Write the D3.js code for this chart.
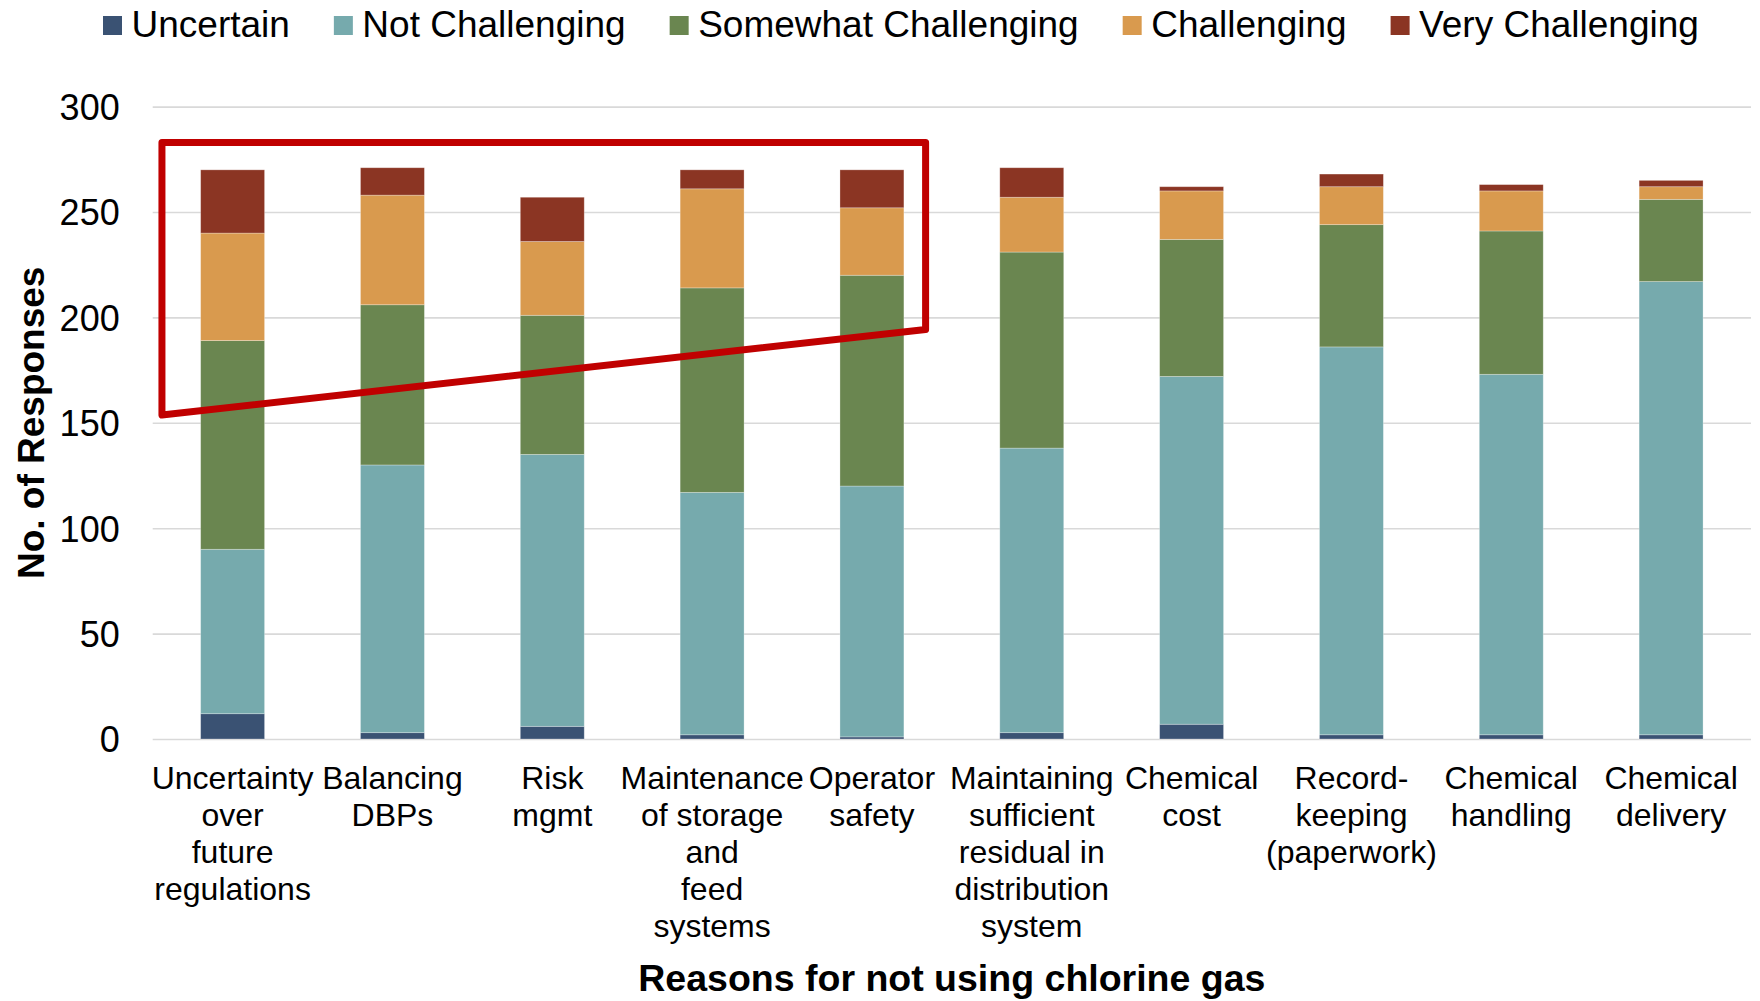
<!DOCTYPE html>
<html>
<head>
<meta charset="utf-8">
<script src="https://cdn.jsdelivr.net/npm/d3@7"></script>
<style>
  html, body { margin: 0; padding: 0; background: #ffffff; }
  svg { display: block; font-family: "Liberation Sans", Arial, sans-serif; }
</style>
</head>
<body>
<svg id="chart" width="1760" height="1001"></svg>
<script>
// Reasons for not using chlorine gas, number of responses by difficulty
const categories = [
  ["Uncertainty", "over", "future", "regulations"],
  ["Balancing", "DBPs"],
  ["Risk", "mgmt"],
  ["Maintenance", "of storage", "and", "feed", "systems"],
  ["Operator", "safety"],
  ["Maintaining", "sufficient", "residual in", "distribution", "system"],
  ["Chemical", "cost"],
  ["Record-", "keeping", "(paperwork)"],
  ["Chemical", "handling"],
  ["Chemical", "delivery"]
];
const seriesNames = ["Uncertain", "Not Challenging", "Somewhat Challenging", "Challenging", "Very Challenging"];
const uncertain           = [12,   3,   6,   2,   1,   3,   7,   2,   2,   2];
const notChallenging      = [78, 127, 129, 115, 119, 135, 165, 184, 171, 215];
const somewhatChallenging = [99,  76,  66,  97, 100,  93,  65,  58,  68,  39];
const challenging         = [51,  52,  35,  47,  32,  26,  23,  18,  19,   6];
const veryChallenging     = [30,  13,  21,   9,  18,  14,   2,   6,   3,   3];
const yTicks = [0, 50, 100, 150, 200, 250, 300];
const xTitle = "Reasons for not using chlorine gas";
const yTitle = "No. of Responses";

// highlighted group: first five reasons, outline edges in response units
const highlightFirst = 0, highlightLast = 4;
const highlightTop = 283, highlightBottomLeft = 153.7, highlightBottomRight = 194.3;

const colors = ["#3a5273", "#76aaad", "#6a8650", "#d99a4e", "#8b3523"];

const seriesValues = [uncertain, notChallenging, somewhatChallenging, challenging, veryChallenging];
const keys = categories.map(c => c.join(" "));
const rows = keys.map((k, i) => {
  const r = { key: k };
  seriesNames.forEach((s, j) => { r[s] = seriesValues[j][i]; });
  return r;
});

const svg = d3.select("#chart");
const plot = { left: 152.7, right: 1751, top: 106.6, bottom: 739 };

const x = d3.scaleBand().domain(keys).range([plot.left, plot.right])
  .paddingInner(0.6).paddingOuter(0.3);
const y = d3.scaleLinear().domain([0, 300]).range([plot.bottom, plot.top]);

// gridlines
const grid = svg.append("g")
  .attr("transform", `translate(${plot.left},0)`)
  .call(d3.axisLeft(y).tickValues(yTicks).tickSize(-(plot.right - plot.left)).tickFormat(""));
grid.select(".domain").remove();
grid.selectAll("line").attr("stroke", "#d9d9d9").attr("stroke-width", 1.6);

// y tick labels
const yAxis = svg.append("g")
  .attr("transform", `translate(${plot.left - 33},0)`)
  .call(d3.axisLeft(y).tickValues(yTicks).tickSize(0).tickPadding(0));
yAxis.select(".domain").remove();
yAxis.selectAll("text")
  .attr("font-family", "'Liberation Sans', Arial, sans-serif")
  .attr("font-size", 36)
  .attr("fill", "#000")
  .attr("dy", "0.36em");

// stacked bars
const stack = d3.stack().keys(seriesNames)(rows);
svg.append("g").selectAll("g")
  .data(stack)
  .join("g")
  .attr("fill", (d, i) => colors[i])
  .selectAll("rect")
  .data(d => d)
  .join("rect")
  .attr("x", d => x(d.data.key))
  .attr("width", x.bandwidth())
  .attr("y", d => y(d[1]))
  .attr("height", d => y(d[0]) - y(d[1]))
  .attr("stroke", "#ffffff")
  .attr("stroke-opacity", 0.35)
  .attr("stroke-width", 0.8);

// category labels
const xl = svg.append("g");
categories.forEach((lines, i) => {
  const cx = x(keys[i]) + x.bandwidth() / 2;
  const t = xl.append("text")
    .attr("text-anchor", "middle")
    .attr("font-size", 32)
    .attr("fill", "#000");
  lines.forEach((ln, j) => {
    t.append("tspan").attr("x", cx).attr("y", 789 + j * 37).text(ln);
  });
});

// axis titles
svg.append("text")
  .attr("x", (plot.left + plot.right) / 2)
  .attr("y", 991)
  .attr("text-anchor", "middle")
  .attr("font-size", 37.5)
  .attr("font-weight", "bold")
  .attr("fill", "#000")
  .text(xTitle);

svg.append("text")
  .attr("transform", `translate(44,${(plot.top + plot.bottom) / 2}) rotate(-90)`)
  .attr("text-anchor", "middle")
  .attr("font-size", 37)
  .attr("font-weight", "bold")
  .attr("fill", "#000")
  .text(yTitle);

// highlight outline around the first five reasons
const hx0 = x(keys[highlightFirst]) - 38.7;
const hx1 = x(keys[highlightLast]) + x.bandwidth() + 21.7;
const outline = [
  [hx0, y(highlightTop)],
  [hx1, y(highlightTop)],
  [hx1, y(highlightBottomRight)],
  [hx0, y(highlightBottomLeft)]
];
svg.append("path")
  .attr("d", d3.line()(outline) + "Z")
  .attr("fill", "none")
  .attr("stroke", "#c00000")
  .attr("stroke-width", 7)
  .attr("stroke-linejoin", "round");

// legend
const legend = svg.append("g");
let lx = 103;
seriesNames.forEach((name, i) => {
  legend.append("rect")
    .attr("x", lx).attr("y", 16)
    .attr("width", 19).attr("height", 19)
    .attr("fill", colors[i]);
  const t = legend.append("text")
    .attr("x", lx + 28.5).attr("y", 37)
    .attr("font-size", 37)
    .attr("fill", "#000")
    .text(name);
  lx += 28.5 + t.node().getComputedTextLength() + 44;
});
</script>
</body>
</html>
